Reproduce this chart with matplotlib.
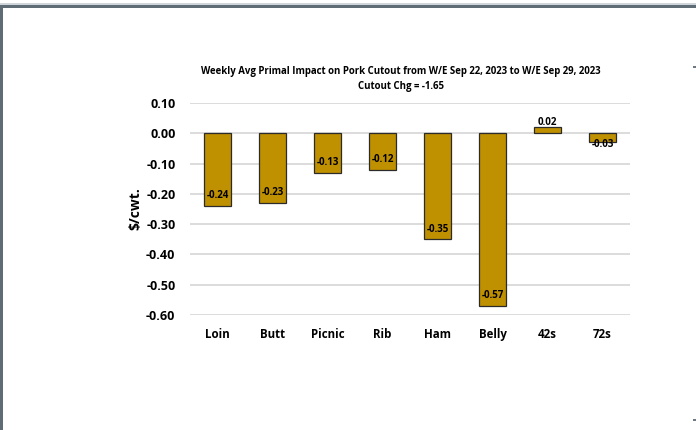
import matplotlib
matplotlib.use("Agg")
import matplotlib.pyplot as plt
from matplotlib.patches import Rectangle
from matplotlib import font_manager

categories = ["Loin", "Butt", "Picnic", "Rib", "Ham", "Belly", "42s", "72s"]
values = [-0.24, -0.23, -0.13, -0.12, -0.35, -0.57, 0.02, -0.03]
yticks = [0.10, 0.00, -0.10, -0.20, -0.30, -0.40, -0.50, -0.60]
title = "Weekly Avg Primal Impact on Pork Cutout from W/E Sep 22, 2023 to W/E Sep 29, 2023\nCutout Chg = -1.65"

avail = {f.name for f in font_manager.fontManager.ttflist}
fam = [f for f in ["Liberation Sans Narrow", "Open Sans", "DejaVu Sans"] if f in avail]
plt.rcParams['font.family'] = fam

W, H, DPI = 696, 430, 100
fig = plt.figure(figsize=(W / DPI, H / DPI), dpi=DPI)
fig.patch.set_facecolor("white")

# frame lines of the screenshot
fig.add_artist(Rectangle((0, 1 - 8 / H), 1, 3 / H, transform=fig.transFigure,
                         color="#5F6B75", lw=0))
fig.add_artist(Rectangle((0, 1 - 5 / H), 1, 2 / H, transform=fig.transFigure,
                         color="#D0D5D9", lw=0))
fig.add_artist(Rectangle((0, 0), 2.5 / W, 1 - 5 / H, transform=fig.transFigure,
                         color="#5F6B75", lw=0))
for yy in (66, 419):
    fig.add_artist(Rectangle((693 / W, 1 - (yy + 2) / H), 3 / W, 2 / H,
                             transform=fig.transFigure, color="#6F7880", lw=0))

left, right = 190, 630
top_px, bot_px = 103, 315
ax = fig.add_axes([left / W, 1 - bot_px / H, (right - left) / W, (bot_px - top_px) / H])
ax.set_ylim(-0.60, 0.10)
ax.set_xlim(-0.5, len(categories) - 0.5)

x = list(range(len(categories)))
ax.bar(x, values, width=0.5, color="#BF9000", edgecolor="#2b2b2b", linewidth=0.9, zorder=3)

ax.set_yticks(yticks)
ax.set_yticklabels([f"{t:.2f}" for t in yticks], fontsize=9, fontweight="bold")
ax.set_xticks(x)
ax.set_xticklabels(categories, fontsize=8.3, fontweight="bold")
ax.tick_params(axis="both", length=0)
ax.tick_params(axis="y", pad=10.5)
ax.tick_params(axis="x", pad=9.5)
ax.grid(axis="y", color="#D9D9D9", linewidth=1.3, zorder=0)
for s in ax.spines.values():
    s.set_visible(False)

ax.set_ylabel("$/cwt.", fontsize=10, fontweight="bold", labelpad=3)

for xi, v in zip(x, values):
    if v > 0:
        off = 5
    elif abs(v) < 0.05:
        off = -2
    else:
        off = 10
    ax.annotate(f"{v:.2f}", (xi, v), xytext=(0, off * 0.72), textcoords="offset points",
                ha="center", va="center", fontsize=7, fontweight="bold", zorder=4)

fig.text(401 / W, 1 - 79 / H, title, ha="center", va="center", fontsize=6.9,
         fontweight="bold", linespacing=1.45)

fig.savefig("out.png", dpi=DPI)
